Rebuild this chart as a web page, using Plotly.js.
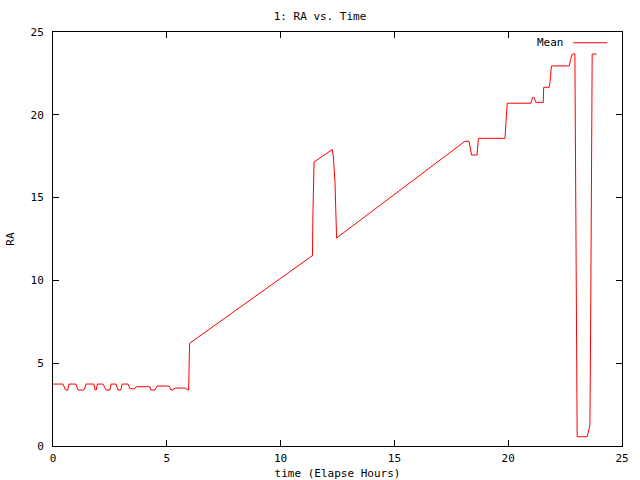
<!DOCTYPE html>
<html>
<head>
<meta charset="utf-8">
<script src="https://cdn.plot.ly/plotly-3.0.1.min.js"></script>
<style>html,body{margin:0;padding:0;background:#fff;}#chart{width:640px;height:480px;}</style>
</head>
<body>
<div id="chart"></div>
<script>
// Elapsed time (hours) and RA mean values
var timeHours = [0, 0.44, 0.55, 0.65, 0.7, 1.0, 1.1, 1.36, 1.45, 1.8, 1.85, 1.9, 1.95, 2.2, 2.33, 2.5, 2.55, 2.77, 2.85, 2.98, 3.03, 3.3, 3.38, 3.6, 3.65, 4.26, 4.3, 4.48, 4.57, 5.1, 5.18, 5.27, 5.36, 5.8, 5.93, 5.96, 6.0,
  11.35, 11.4, 11.42, 11.47, 12.27, 12.32, 12.39, 12.42, 12.46,
  18.1, 18.28, 18.39, 18.63, 18.69, 19.86, 19.9, 19.96, 21.0, 21.07, 21.13, 21.22, 21.54, 21.56, 21.8, 21.84, 21.9, 22.68, 22.74, 22.82, 22.93,
  22.96, 23.0, 23.03, 23.47, 23.55, 23.59, 23.62, 23.66, 23.69, 23.88];
var raMean = [3.74, 3.74, 3.38, 3.38, 3.74, 3.74, 3.38, 3.38, 3.74, 3.74, 3.38, 3.38, 3.74, 3.74, 3.38, 3.38, 3.74, 3.74, 3.38, 3.38, 3.74, 3.74, 3.46, 3.46, 3.58, 3.58, 3.38, 3.38, 3.62, 3.62, 3.38, 3.38, 3.5, 3.5, 3.38, 3.38, 6.2,
  11.45, 11.5, 14.0, 17.15, 17.9, 17.45, 15.9, 13.6, 12.56,
  18.4, 18.4, 17.57, 17.57, 18.58, 18.58, 19.5, 20.7, 20.7, 21.05, 21.05, 20.75, 20.75, 21.66, 21.66, 22.0, 22.95, 22.95, 23.35, 23.67, 23.67,
  18.0, 6.4, 0.56, 0.56, 1.08, 1.27, 6.8, 18.1, 23.67, 23.67];
var xTicks = [0, 5, 10, 15, 20, 25];
var yTicks = [0, 5, 10, 15, 20, 25];
var seriesName = "Mean";

var fnt = {family: "DejaVu Sans Mono, monospace", size: 11, color: "#000"};

var trace = {
  x: timeHours, y: raMean, type: "scatter", mode: "lines", name: seriesName,
  line: {color: "#ff0000", width: 1}, showlegend: false
};

var axisCommon = {
  showline: true, linecolor: "#000", linewidth: 1, mirror: "ticks",
  ticks: "inside", ticklen: 6, tickcolor: "#000", tickwidth: 1,
  showgrid: false, zeroline: false, tickfont: fnt
};

var layout = {
  width: 640, height: 480,
  margin: {l: 53, r: 18, t: 32, b: 34},
  paper_bgcolor: "#fff", plot_bgcolor: "#fff",
  font: fnt,
  title: {text: "1: RA vs. Time", font: fnt, x: 0.5, xanchor: "center", y: 0.967, yanchor: "middle"},
  xaxis: Object.assign({}, axisCommon, {
    range: [0, 25], tickvals: xTicks, ticktext: xTicks.map(String),
    ticklabelstandoff: 2,
    title: {text: "time (Elapse Hours)", font: fnt, standoff: 5}
  }),
  yaxis: Object.assign({}, axisCommon, {
    range: [0, 25], tickvals: yTicks, ticktext: yTicks.map(String),
    ticklabelstandoff: 6,
    title: {text: "RA", font: fnt, standoff: 13}
  }),
  showlegend: false,
  annotations: [{
    xref: "paper", yref: "paper", x: 0.902, y: 0.974, xanchor: "right", yanchor: "middle",
    text: seriesName, showarrow: false, font: fnt
  }],
  shapes: [{
    type: "line", xref: "paper", yref: "paper", x0: 0.914, x1: 0.974, y0: 0.974, y1: 0.974,
    line: {color: "#ff0000", width: 1}
  }]
};

Plotly.newPlot("chart", [trace], layout, {staticPlot: true, displayModeBar: false});
</script>
</body>
</html>
